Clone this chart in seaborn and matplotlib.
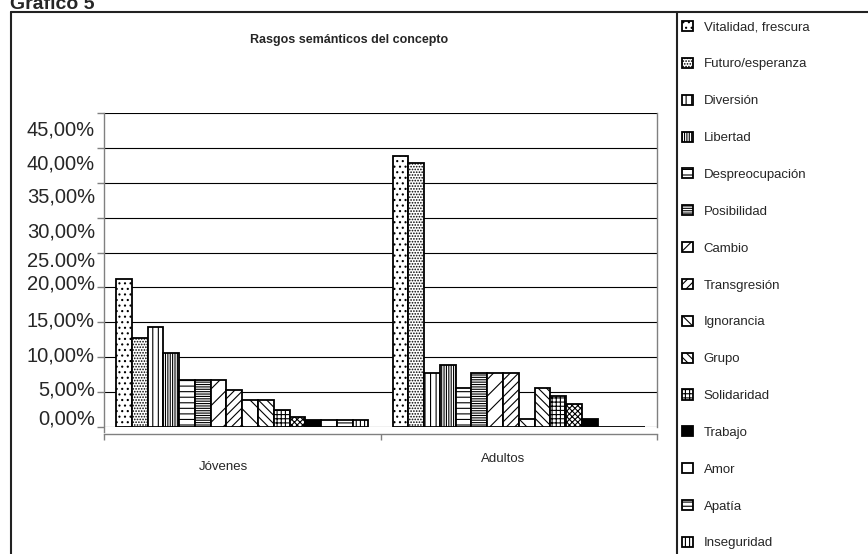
import numpy as np
import pandas as pd
import matplotlib
matplotlib.use("Agg")
import matplotlib.pyplot as plt
from matplotlib.lines import Line2D
import seaborn as sns

# Grupos de edad (categorías del eje X)
grupos = ["Jóvenes", "Adultos"]

# Rasgos semánticos, en el orden de las series
rasgos = ["Vitalidad, frescura", "Futuro/esperanza", "Diversión", "Libertad",
          "Despreocupación", "Posibilidad", "Cambio", "Transgresión",
          "Ignorancia", "Grupo", "Solidaridad", "_serie12", "Trabajo",
          "Amor", "Apatía", "Inseguridad"]

# Porcentajes por grupo
jovenes = [21.2, 12.8, 14.4, 10.6, 6.7, 6.7, 6.7, 5.3,
           3.8, 3.8, 2.4, 1.4, 1.0, 1.0, 1.0, 1.0]
adultos = [38.89, 37.78, 7.78, 8.89, 5.56, 7.78, 7.78, 7.78,
           1.11, 5.56, 4.44, 3.33, 1.11, 0.0, 0.0, 0.0]

# Marcas y etiquetas del eje Y
valores_y = [0.0, 0.05, 0.10, 0.15, 0.20, 0.25, 0.30, 0.35, 0.40, 0.45]
etiquetas_y = ["0,00%", "5,00%", "10,00%", "15,00%", "20,00%",
               "25.00%", "30,00%", "35,00%", "40,00%", "45,00%"]

# Trama de cada serie: (hatch, relleno)
tramas = [("...", "white"), ("......", "white"), ("|||", "white"), ("|||||||", "white"),
          ("---", "white"), ("-------", "white"), ("//", "white"), ("////", "white"),
          ("\\\\", "white"), ("\\\\\\\\", "white"), ("++++", "white"), ("xxxxxx", "white"),
          ("", "black"), ("", "white"), ("----", "white"), ("||||", "white")]

sns.set_style("white")
plt.rcParams["font.family"] = ["Liberation Sans", "DejaVu Sans"]
plt.rcParams["hatch.linewidth"] = 0.8
NARROW = ["Liberation Sans Narrow", "Liberation Sans", "DejaVu Sans"]

W, H = 868, 554
PX = 72 / 100  # puntos por píxel
fig = plt.figure(figsize=(W / 100, H / 100), dpi=100)
ax = fig.add_axes([104 / W, 1 - 427 / H, 553 / W, 314 / H])

df = pd.DataFrame({
    "grupo": np.repeat(grupos, len(rasgos)),
    "rasgo": rasgos * len(grupos),
    "valor": np.concatenate([jovenes, adultos]) / 100.0,
})

sns.barplot(data=df, x="grupo", y="valor", hue="rasgo", order=grupos,
            hue_order=rasgos, palette=["white"] * len(rasgos), saturation=1,
            width=0.913, dodge=True, errorbar=None, legend=False,
            edgecolor="black", linewidth=1.3, ax=ax)

for cont, (hatch, fc) in zip(ax.containers, tramas):
    for p in cont.patches:
        p.set_facecolor(fc)
        p.set_hatch(hatch)
        p.set_edgecolor("black")

ax.set_xlim(-0.5, 1.5)
ax.set_ylim(0, 0.45)
ax.set_xlabel("")
ax.set_ylabel("")

# Eje Y: marcas y líneas de división; los rótulos van como texto aparte
ax.set_yticks(valores_y)
ax.set_yticklabels([])
ax.tick_params(axis="y", left=True, length=5, width=1, color="#808080",
               direction="out")
ax.yaxis.grid(True, color="black", linewidth=0.8)
ax.set_axisbelow(True)

# desplazamiento vertical de cada rótulo (píxeles, positivo hacia abajo)
ajuste_y = [-8, -2, -1, -1, -3, 9, 14, 14, 16, 17]
for v, txt, dy in zip(valores_y, etiquetas_y, ajuste_y):
    ax.annotate(txt, xy=(0, v), xycoords=("axes fraction", "data"),
                xytext=(-9 * PX, -dy * PX), textcoords="offset points",
                ha="right", va="center", fontsize=14.5)

# Eje X: marcas entre categorías, rótulos aparte
ax.set_xticks([])
ax.set_xticks([-0.5, 0.5, 1.5], minor=True)
ax.tick_params(axis="x", which="minor", bottom=True, length=4, width=1,
               color="#808080", direction="out")
desplaz = [(-18.5, -40), (-16, -32)]
for i, (g, (dx, dy)) in enumerate(zip(grupos, desplaz)):
    ax.annotate(g, xy=(i, 0), xycoords=("data", "axes fraction"),
                xytext=(dx * PX, dy * PX), textcoords="offset points",
                ha="center", va="center", fontsize=9.5, family=NARROW)

for s in ["left", "bottom", "right", "top"]:
    ax.spines[s].set_color("#808080")
    ax.spines[s].set_linewidth(1.0)
ax.spines["top"].set_visible(False)
ax.spines["bottom"].set_position(("outward", 5))
ax.spines["left"].set_bounds(-0.0072, 0.45)

# Títulos
fig.text(10 / W, 1 - 9 / H, "Gráfico 5", ha="left", va="baseline",
         fontsize=14, fontweight="bold")
fig.text(349 / W, 1 - 40 / H, "Rasgos semánticos del concepto",
         ha="center", va="center", fontsize=9, fontweight="bold", family=NARROW)

# Marco del gráfico y separación de la leyenda
marco = dict(transform=fig.transFigure, color="#222222", linewidth=1.5)
fig.add_artist(Line2D([11 / W, 11 / W], [0, 1 - 12 / H], **marco))
fig.add_artist(Line2D([11 / W, 1], [1 - 12 / H, 1 - 12 / H], **marco))
fig.add_artist(Line2D([677 / W, 677 / W], [0, 1 - 12 / H], **marco))

# Leyenda
handles, labels = [], []
for cont, nombre in zip(ax.containers, rasgos):
    if nombre.startswith("_"):
        continue
    handles.append(cont.patches[0])
    labels.append(nombre)
fig.legend(handles, labels, loc="upper left",
           bbox_to_anchor=(682 / W, 1 - 21 / H), frameon=False,
           prop={"family": NARROW, "size": 9.5}, handlelength=0.8,
           handleheight=0.8, handletextpad=0.85, labelspacing=1.835,
           borderpad=0, borderaxespad=0)

fig.savefig("out.png", dpi=100)
